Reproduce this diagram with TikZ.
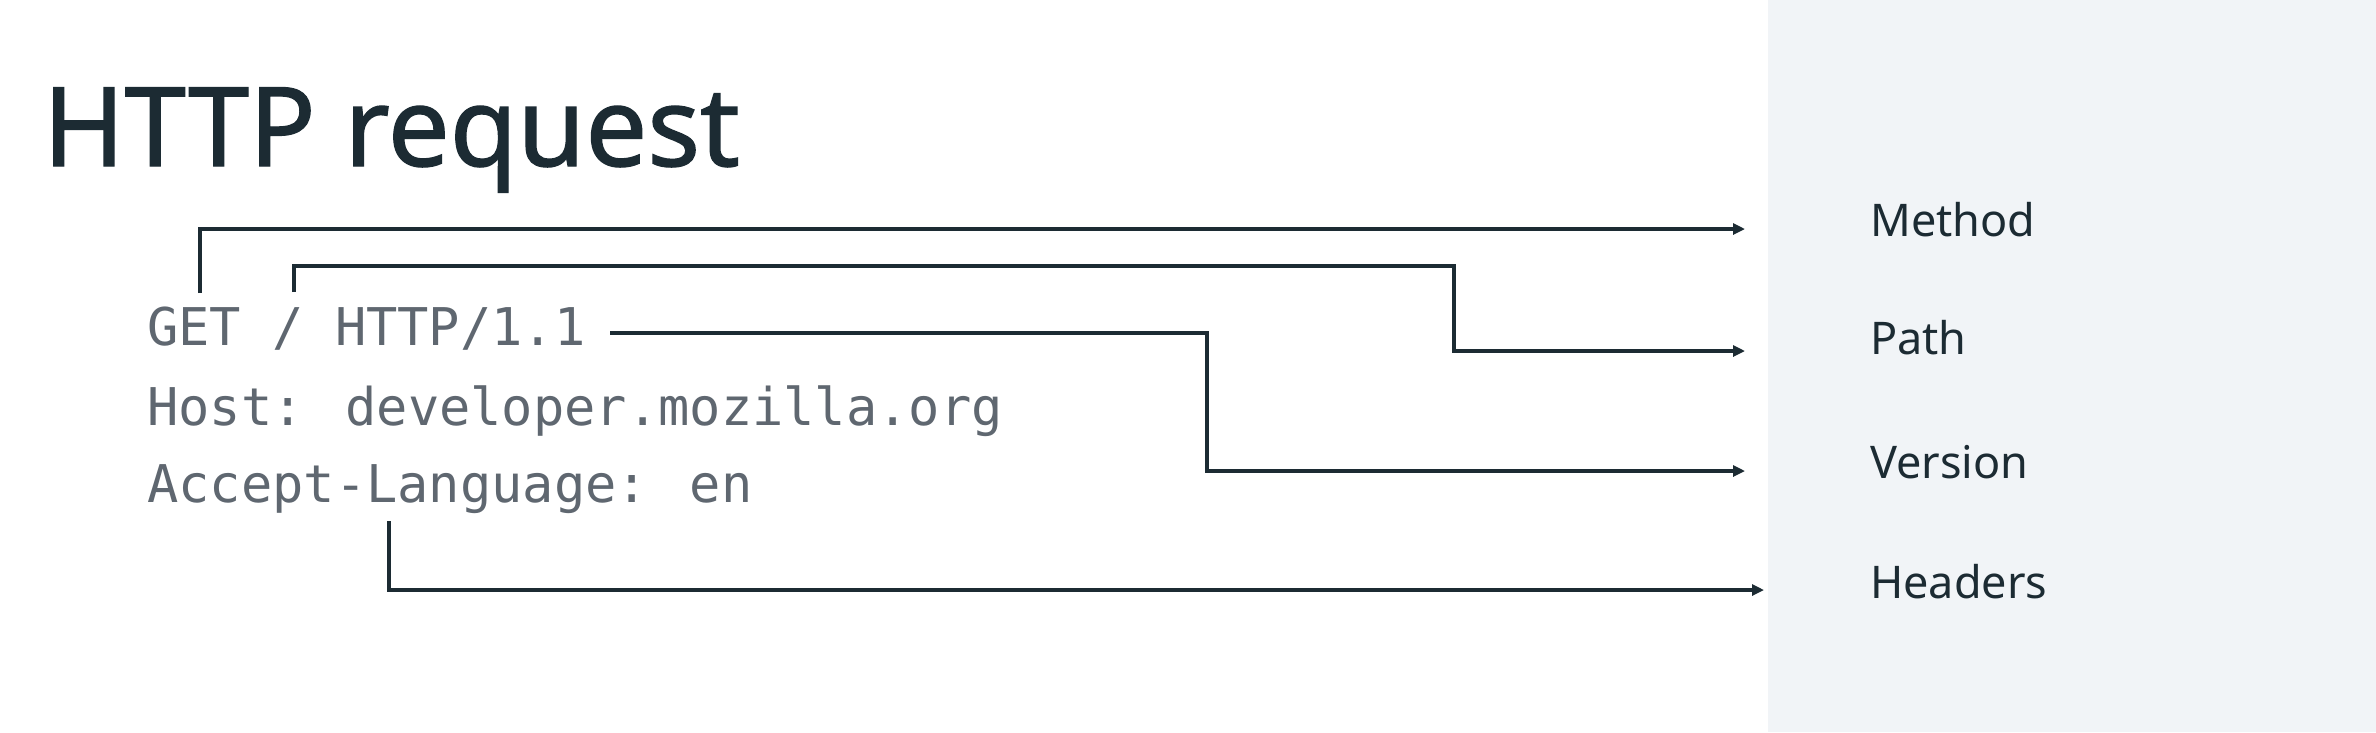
\documentclass[tikz,border=0pt]{standalone}
\usepackage{fontspec}
\setmainfont{Noto Sans}
\newfontfamily\titlefont[FakeBold=1.2]{Noto Sans}
\newfontfamily\codefont{DejaVu Sans Mono}
\usetikzlibrary{arrows.meta}
\definecolor{inkdark}{HTML}{1C2B33}
\definecolor{codegray}{HTML}{5F6770}
\definecolor{panelgray}{HTML}{F1F4F7}
\begin{document}
\begin{tikzpicture}[x=1pt,y=-1pt,
  titletext/.style={anchor=base west, inner sep=0pt, text=inkdark, font=\titlefont\fontsize{110}{130}\selectfont},
  codeline/.style={anchor=base west, inner sep=0pt, text=codegray, font=\codefont\fontsize{52}{60}\selectfont},
  fieldlabel/.style={anchor=base west, inner sep=0pt, text=inkdark, font=\fontsize{45}{54}\selectfont},
  connector/.style={draw=inkdark, line width=3.5pt, -{Triangle[length=12pt,width=11pt]}}]
\fill[white] (0,0) rectangle (2376,732);
\fill[panelgray] (1768,0) rectangle (2376,732);
\path[use as bounding box] (0,0) rectangle (2376,732);
% title
\node[titletext] (title) at (43,166) {HTTP request};
% request lines
\node[codeline] (reqline) at (147,345) {GET / HTTP/1.1};
\node[codeline] (hostline) at (147,425) {Host: developer.mozilla.org};
\node[codeline] (langline) at (147,502) {Accept-Language: en};
% field labels
\node[fieldlabel] (method) at (1870,236) {Method};
\node[fieldlabel] (pathlbl) at (1870,354) {Path};
\node[fieldlabel] (version) at (1870,478) {Version};
\node[fieldlabel] (headers) at (1870,598) {Headers};
% connector end points
\coordinate (mstart) at (200,293);
\coordinate (mend) at (1745,229);
\coordinate (pstart) at (294,292);
\coordinate (pturn) at (1454,266);
\coordinate (pend) at (1745,351);
\coordinate (vstart) at (610,333);
\coordinate (vturn) at (1207,471);
\coordinate (vend) at (1745,471);
\coordinate (hstart) at (389,521);
\coordinate (hend) at (1764,590);
% connectors
\draw[connector] (mstart) |- (mend);
\draw[connector] (pstart) |- (pturn) |- (pend);
\draw[connector] (vstart) -| (vturn) -- (vend);
\draw[connector] (hstart) |- (hend);
\end{tikzpicture}
\end{document}
